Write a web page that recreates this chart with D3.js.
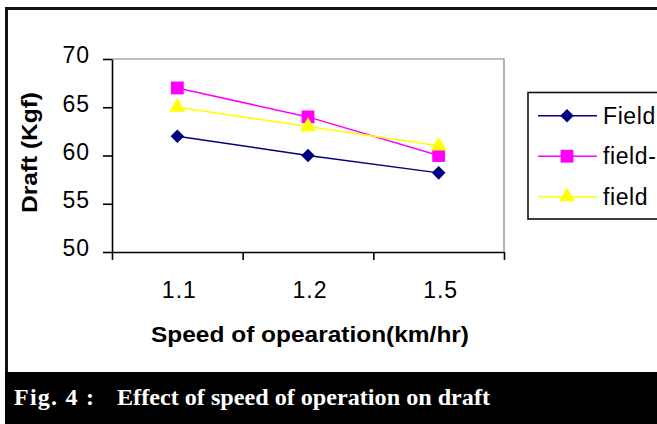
<!DOCTYPE html>
<html>
<head>
<meta charset="utf-8">
<script src="https://cdn.jsdelivr.net/npm/d3@7"></script>
<style>
  html, body { margin: 0; padding: 0; background: #fff; }
  svg { display: block; }
</style>
</head>
<body>
<svg id="chart" width="657" height="424"></svg>
<script>
// ---- data ----
const categories = ["1.1", "1.2", "1.5"];
const seriesNames = ["Field", "field-", "field"];
const fieldValues = [62, 60, 58.2];
const fieldDashValues = [67, 64, 60];
const fieldPlainValues = [65, 63, 61];
const yTicks = [50, 55, 60, 65, 70];
const yTitle = "Draft (Kgf)";
const xTitle = "Speed of opearation(km/hr)";
const captionLabel = "Fig. 4 :";
const captionText = "Effect of speed of operation on draft";

(function () {
const series = [
  { name: seriesNames[0], values: fieldValues, color: "#000080", marker: "diamond" },
  { name: seriesNames[1], values: fieldDashValues, color: "#FF00FF", marker: "square" },
  { name: seriesNames[2], values: fieldPlainValues, color: "#FFFF00", marker: "triangle" }
];

const svg = d3.select("#chart");
const W = 657, H = 424;
const SANS = "'Liberation Sans', Arial, Helvetica, sans-serif";
const SERIF = "'Liberation Serif', 'Times New Roman', Times, serif";

// outer frame
svg.append("rect").attr("x", 6.5).attr("y", 8.5).attr("width", 700).attr("height", 380)
  .attr("fill", "#fff").attr("stroke", "#111").attr("stroke-width", 3);
// caption band
svg.append("rect").attr("x", 5).attr("y", 372).attr("width", W - 5).attr("height", H - 372)
  .attr("fill", "#000");

// plot area
const pL = 112, pR = 504, pT = 59, pB = 252;
const x = d3.scaleBand().domain(categories).range([pL, pR]).padding(0);
const xEdges = d3.scaleLinear().domain([0, categories.length]).range([pL, pR]);
const y = d3.scaleLinear().domain([50, 70]).range([pB, pT]);
const cx = d => x(d) + x.bandwidth() / 2;

// grey plot frame (top + right)
svg.append("path")
  .attr("d", `M${pL},${pT}H${pR}V${pB}`)
  .attr("fill", "none").attr("stroke", "#808080").attr("stroke-width", 1.2);

// y axis
const yAxis = svg.append("g").attr("transform", `translate(${pL},0)`)
  .call(d3.axisLeft(y).tickValues(yTicks).tickSize(9).tickPadding(13).tickSizeOuter(0));
yAxis.select(".domain").attr("stroke", "#000").attr("stroke-width", 1.6);
yAxis.selectAll(".tick line").attr("stroke", "#000").attr("stroke-width", 1.6);
yAxis.selectAll(".tick text")
  .attr("font-family", SANS).attr("letter-spacing", 1)
  .attr("font-size", 23).attr("fill", "#000").attr("dy", "0.17em");

// x axis: tick marks at band edges
const xAxisTicks = svg.append("g").attr("transform", `translate(0,${pB})`)
  .call(d3.axisBottom(xEdges).tickValues(d3.range(categories.length + 1))
    .tickSize(8).tickFormat("").tickSizeOuter(0));
xAxisTicks.select(".domain").attr("stroke", "#000").attr("stroke-width", 1.6);
xAxisTicks.selectAll(".tick line").attr("stroke", "#000").attr("stroke-width", 1.6);

// x axis labels at band centres
const xAxisLabels = svg.append("g").attr("transform", `translate(2,${pB})`)
  .call(d3.axisBottom(x).tickSize(0).tickPadding(30));
xAxisLabels.select(".domain").remove();
xAxisLabels.selectAll(".tick text")
  .attr("font-family", SANS).attr("letter-spacing", 1)
  .attr("font-size", 23).attr("fill", "#000");

// axis titles
svg.append("text")
  .attr("transform", "translate(37,152.5) rotate(-90)")
  .attr("text-anchor", "middle")
  .attr("font-family", SANS)
  .attr("font-weight", "bold").attr("font-size", 22)
  .attr("textLength", 121).attr("lengthAdjust", "spacingAndGlyphs")
  .text(yTitle);

svg.append("text")
  .attr("x", 310).attr("y", 342)
  .attr("text-anchor", "middle")
  .attr("font-family", SANS)
  .attr("font-weight", "bold").attr("font-size", 22)
  .attr("textLength", 318).attr("lengthAdjust", "spacingAndGlyphs")
  .text(xTitle);

// markers
function markerPath(type) {
  if (type === "diamond") return d3.symbol().type(d3.symbolSquare).size(92)();
  if (type === "square") return d3.symbol().type(d3.symbolSquare).size(165)();
  return d3.symbol().type(d3.symbolTriangle).size(110)();
}
function markerRot(type) { return type === "diamond" ? 45 : 0; }

const line = d3.line().x((d, i) => cx(categories[i])).y(d => y(d));

series.forEach(s => {
  const g = svg.append("g");
  g.append("path").attr("d", line(s.values)).attr("fill", "none")
    .attr("stroke", s.color).attr("stroke-width", 1.5);
  g.selectAll("path.m").data(s.values).join("path").attr("class", "m")
    .attr("d", markerPath(s.marker))
    .attr("transform", (d, i) => `translate(${cx(categories[i])},${y(d)}) rotate(${markerRot(s.marker)})`)
    .attr("fill", s.color);
});

// legend
const legend = svg.append("g");
legend.append("rect").attr("x", 528).attr("y", 92.5).attr("width", 200).attr("height", 126.5)
  .attr("fill", "#fff").attr("stroke", "#111").attr("stroke-width", 1.6);
const legendY = d3.scalePoint().domain(seriesNames).range([115.7, 196.7]);
series.forEach(s => {
  const ly = legendY(s.name);
  legend.append("line").attr("x1", 538).attr("x2", 597).attr("y1", ly).attr("y2", ly)
    .attr("stroke", s.color).attr("stroke-width", 1.5);
  legend.append("path").attr("d", markerPath(s.marker))
    .attr("transform", `translate(567,${ly}) rotate(${markerRot(s.marker)})`)
    .attr("fill", s.color);
  legend.append("text").attr("x", 603).attr("y", ly + 8)
    .attr("font-family", SANS).attr("letter-spacing", 0.6)
    .attr("font-size", 23).attr("fill", "#000")
    .text(s.name);
});

// caption
svg.append("text").attr("x", 14).attr("y", 405)
  .attr("font-family", SERIF)
  .attr("font-weight", "bold").attr("font-size", 24).attr("fill", "#fff")
  .attr("textLength", 80).attr("lengthAdjust", "spacing")
  .text(captionLabel);
svg.append("text").attr("x", 117).attr("y", 405)
  .attr("font-family", SERIF)
  .attr("font-weight", "bold").attr("font-size", 24).attr("fill", "#fff")
  .attr("textLength", 373).attr("lengthAdjust", "spacingAndGlyphs")
  .text(captionText);
})();
</script>
</body>
</html>
